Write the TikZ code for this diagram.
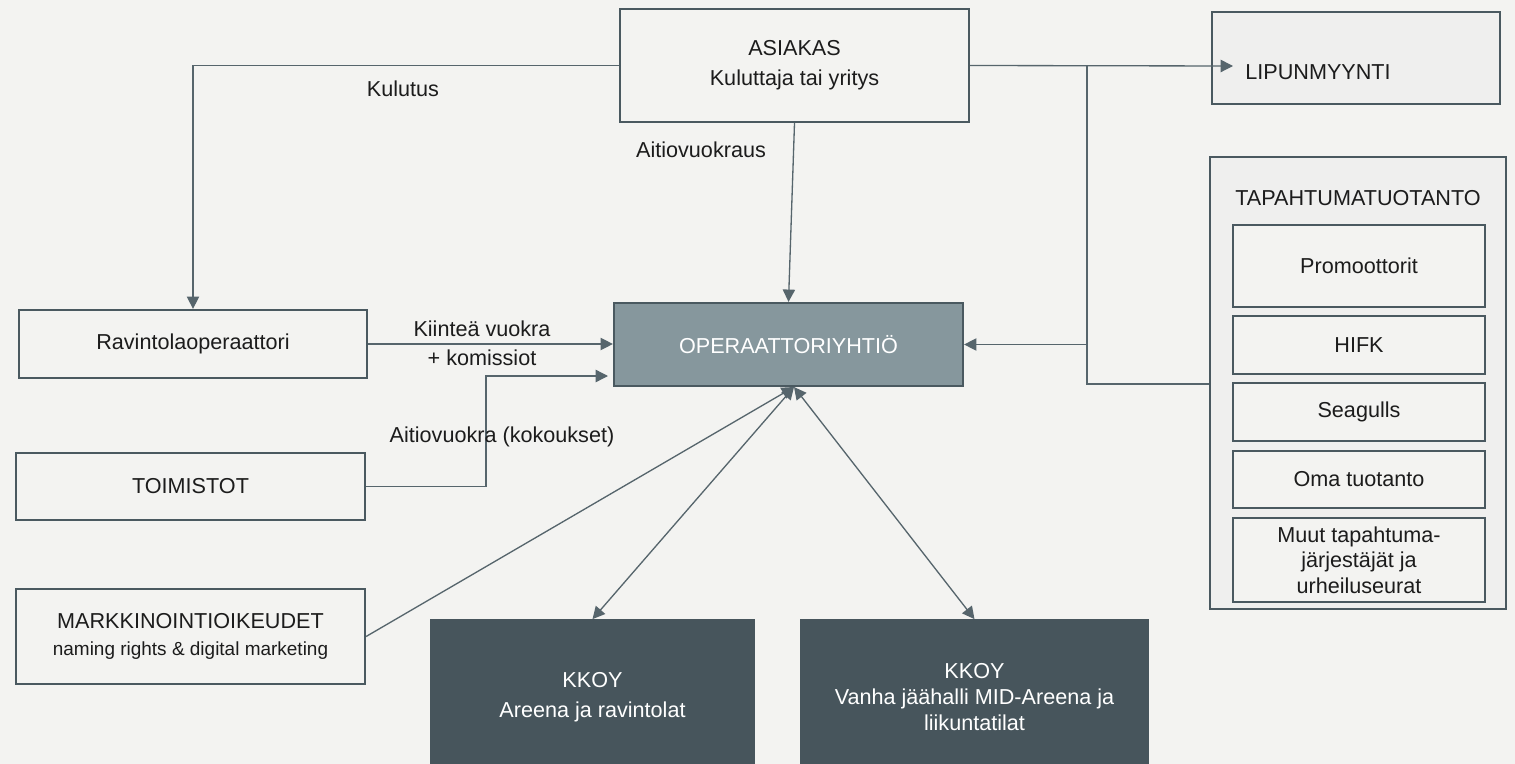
\documentclass[tikz,border=0pt]{standalone}
\usepackage{fontspec}
\setmainfont{Liberation Sans}
\usetikzlibrary{arrows.meta}
\definecolor{bg}{HTML}{F3F3F1}
\definecolor{edge}{HTML}{4A5960}
\definecolor{wire}{HTML}{56656C}
\definecolor{opfill}{HTML}{86979D}
\definecolor{kkfill}{HTML}{47555C}
\definecolor{lightfill}{HTML}{EFEFEE}
\definecolor{ink}{HTML}{1C1C1C}
\begin{document}
\begin{tikzpicture}[x=0.02cm,y=-0.02cm,
  every node/.style={font=\fontsize{12.3pt}{17pt}\selectfont, text=ink},
  box/.style={draw=edge, line width=1.3pt, fill=bg, inner sep=0pt, align=center},
  litebox/.style={box, fill=lightfill},
  opbox/.style={box, fill=opfill, text=white},
  kkbox/.style={draw=kkfill, line width=1pt, fill=kkfill, inner sep=0pt, align=center, text=white},
  conn/.style={draw=wire, line width=0.75pt},
  arr/.style={conn, -{Triangle[length=7pt,width=7pt]}},
  darr/.style={conn, {Triangle[length=7pt,width=7pt]}-{Triangle[length=7pt,width=7pt]}},
  lbl/.style={inner sep=0pt, align=center}]
\fill[bg] (0,0) rectangle (1515,764);
\clip (0,0) rectangle (1515,764);

% boxes
\node[box, minimum width=6.98cm, minimum height=2.26cm] (asiakas) at (794.5,65.5)
  {ASIAKAS\\Kuluttaja tai yritys};
\node[litebox, minimum width=5.76cm, minimum height=1.84cm] (lipun) at (1356,58) {};
\node[lbl] (lipuntext) at (1318,72) {LIPUNMYYNTI};
\node[opbox, minimum width=6.98cm, minimum height=1.66cm] (oper) at (788.5,344.5)
  {OPERAATTORIYHTIÖ};
\node[box, minimum width=6.96cm, minimum height=1.36cm] (ravintola) at (193,344)
  {Ravintolaoperaattori};
\node[box, minimum width=6.98cm, minimum height=1.34cm] (toimistot) at (190.5,486.5)
  {TOIMISTOT};
\node[box, minimum width=6.98cm, minimum height=1.9cm, font=\fontsize{12.3pt}{15.5pt}\selectfont] (markk) at (190.5,636.5)
  {MARKKINOINTIOIKEUDET\\{\fontsize{10.8pt}{13pt}\selectfont naming rights \& digital marketing}};
\node[kkbox, minimum width=6.46cm, minimum height=3.1cm] (kkoy1) at (592.5,697.5)
  {KKOY\\Areena ja ravintolat};
\node[kkbox, minimum width=6.94cm, minimum height=3.1cm, font=\fontsize{12.3pt}{14.8pt}\selectfont] (kkoy2) at (974.5,697.5)
  {KKOY\\Vanha jäähalli MID-Areena ja\\liikuntatilat};

% event production group
\node[litebox, minimum width=5.92cm, minimum height=9.04cm] (tapa) at (1358,383) {};
\node[lbl] (tapatitle) at (1358,198) {TAPAHTUMATUOTANTO};
\node[box, minimum width=5.04cm, minimum height=1.64cm] (promo) at (1359,266) {Promoottorit};
\node[box, minimum width=5.04cm, minimum height=1.16cm] (hifk) at (1359,345) {HIFK};
\node[box, minimum width=5.04cm, minimum height=1.16cm] (seagulls) at (1359,412) {Seagulls};
\node[box, minimum width=5.04cm, minimum height=1.14cm] (oma) at (1359,479.5) {Oma tuotanto};
\node[box, minimum width=5.04cm, minimum height=1.68cm, font=\fontsize{12.3pt}{14.5pt}\selectfont] (muut) at (1359,560)
  {Muut tapahtuma-\\järjestäjät ja\\urheiluseurat};

% helper coordinates
\coordinate (lipin) at (1233,66);
\coordinate (j1) at (1087,66);
\coordinate (j2) at (1087,344.5);
\coordinate (tcorner) at (486,376);
\coordinate (tend) at (608,376);
\coordinate (obot) at (794,387);

% connectors
\draw[arr] (asiakas.east) -- (lipin);
\draw[conn] (j1) -- (j2);
\draw[arr] (tapa.west |- 0,384) -| (j2) -- (oper.east);
\draw[arr] (asiakas.west) -| (ravintola.north);
\draw[arr] (asiakas.south) -- (oper.north);
\draw[arr] (ravintola.east) -- (oper.west |- ravintola.east);
\draw[arr] (toimistot.east) -| (tcorner) -- (tend);
\draw[arr] (markk.east) -- (obot);
\draw[darr] (kkoy1.north) -- (obot);
\draw[darr] (kkoy2.north) -- (obot);

% labels
\node[lbl] (lkulutus) at (403,89) {Kulutus};
\node[lbl] (laitio) at (701,150) {Aitiovuokraus};
\node[lbl] (lkiintea) at (482,329) {Kiinteä vuokra};
\node[lbl] (lkomissiot) at (482,358) {+ komissiot};
\node[lbl] (lkokous) at (502,437) {Aitiovuokra (kokoukset)};
\end{tikzpicture}
\end{document}
